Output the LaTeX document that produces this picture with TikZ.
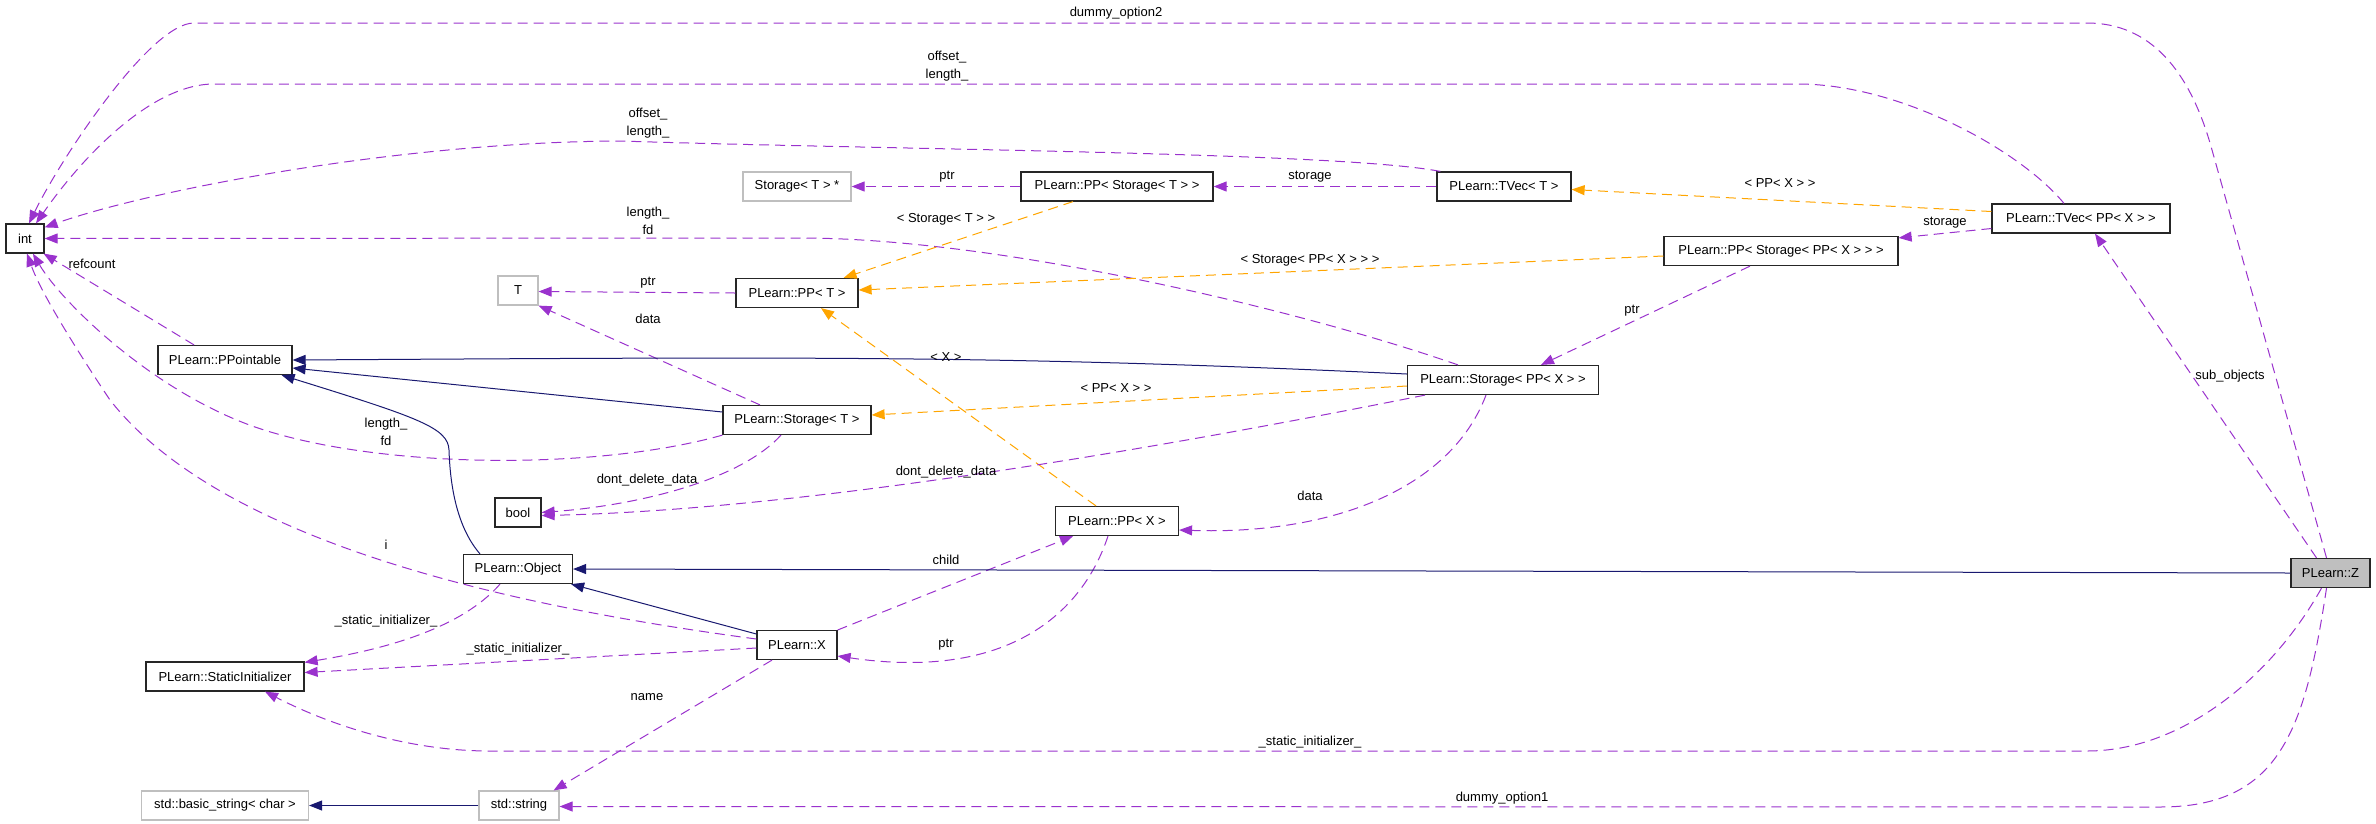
\documentclass[tikz,border=0pt]{standalone}
\usepackage{fontspec}
\usetikzlibrary{arrows.meta}
\newfontfamily\labfam{Liberation Sans}
\newcommand\labfont{\labfam\fontsize{13}{18}\selectfont}
\definecolor{purp}{HTML}{9A32CD}
\definecolor{orng}{HTML}{FFA500}
\definecolor{mnavy}{HTML}{191970}
\definecolor{greyS}{HTML}{BFBFBF}
\tikzset{
  box/.style={draw=black!85, line width=1.2pt, fill=white, minimum height=29pt, inner sep=0pt, font=\labfont},
  gbox/.style={box, draw=greyS},
  tip/.style={-{Triangle[length=13pt,width=10pt]}},
  pe/.style={draw=purp, line width=1pt, dash pattern=on 10pt off 6pt, tip},
  oe/.style={draw=orng, line width=1pt, dash pattern=on 10pt off 6pt, tip},
  ne/.style={draw=mnavy, line width=1pt, tip},
  lbl/.style={font=\labfont, inner sep=0pt, align=center}
}
\begin{document}
\begin{tikzpicture}[x=1pt,y=-1pt]
\useasboundingbox (0,0) rectangle (2376,823);
% nodes
\node[box, minimum width=38pt] (int) at (25,238.5) {int};
\node[box, minimum width=134pt] (ppt) at (225,360) {PLearn::PPointable};
\node[gbox, minimum width=40pt] (T) at (518,290.5) {T};
\node[gbox, minimum width=108pt] (sts) at (797,186.5) {Storage< T > *};
\node[box, minimum width=192pt] (ppst) at (1117,186.5) {PLearn::PP< Storage< T > >};
\node[box, minimum width=134pt] (tvt) at (1504,186.5) {PLearn::TVec< T >};
\node[box, minimum width=122pt] (ppT) at (797,293) {PLearn::PP< T >};
\node[box, minimum width=191pt] (spx) at (1503,380) {PLearn::Storage< PP< X > >};
\node[box, minimum width=148pt] (st) at (797,420) {PLearn::Storage< T >};
\node[box, minimum width=46pt] (bool) at (518,512.5) {bool};
\node[box, minimum width=123pt] (ppx) at (1117,521) {PLearn::PP< X >};
\node[box, minimum width=109pt] (obj) at (518,569) {PLearn::Object};
\node[box, minimum width=80pt] (X) at (797,645) {PLearn::X};
\node[box, minimum width=158pt] (si) at (225,676.5) {PLearn::StaticInitializer};
\node[gbox, minimum width=167pt] (bs) at (225,805.5) {std::basic\_string< char >};
\node[gbox, minimum width=80pt] (ss) at (519,805.5) {std::string};
\node[box, minimum width=178pt] (tvpx) at (2081,218.5) {PLearn::TVec< PP< X > >};
\node[box, minimum width=234pt] (ppspx) at (1781,251) {PLearn::PP< Storage< PP< X > > >};
\node[box, minimum width=79pt, fill=greyS] (Z) at (2330.5,573) {PLearn::Z};
% edges
\draw[pe] ([xshift=-4pt]Z.north) -- (2212,150) .. controls (2190,70) and (2150,23) .. (2087,23) -- (194,23) .. controls (150,23) and (60,160) .. ([xshift=4pt]int.north);
\draw[pe] ([xshift=-17pt]tvpx.north) .. controls (2020,150) and (1900,84) .. (1798,84) -- (214,84) .. controls (150,84) and (80,160) .. ([xshift=11pt]int.north);
\draw[pe] ([xshift=4pt]tvt.north west) .. controls (1340,152) and (900,150) .. (620,141) .. controls (400,142) and (150,190) .. ([yshift=-4pt]int.north east);
\draw[pe] ([xshift=-45pt]spx.north) .. controls (1300,310) and (1000,238) .. (800,238) -- (int.east);
\draw[pe] ([xshift=-31pt]ppt.north) -- ([xshift=-1pt]int.south east);
\draw[pe] (st.south west) .. controls (600,470) and (380,470) .. (255,427) .. controls (150,390) and (60,300) .. ([xshift=8pt]int.south);
\draw[pe] ([yshift=6pt]X.west) .. controls (500,605) and (220,540) .. (110,400) .. controls (70,340) and (40,290) .. ([xshift=2pt]int.south);
\draw[pe] (ppT.west) -- ([yshift=-1pt]T.east);
\draw[pe] ([xshift=-37pt]st.north) -- (T.south east);
\draw[ne] ([yshift=6pt]spx.west) .. controls (1000,355) and (800,357) .. (ppt.east);
\draw[ne] ([yshift=8pt]st.west) -- ([yshift=-8pt]ppt.east);
\draw[ne] ([xshift=-38pt]obj.north) .. controls (455,525) and (450,480) .. (449,450) .. controls (448,428) and (420,418) .. ([xshift=-11pt]ppt.south east);
\draw[oe] ([xshift=-44pt]ppst.south) -- ([xshift=-15pt]ppT.north east);
\draw[oe] ([yshift=-5pt]ppspx.west) -- ([yshift=3pt]ppT.east);
\draw[oe] ([xshift=-21pt]ppx.north) -- ([xshift=24pt]ppT.south);
\draw[pe] (ppst.west) -- (sts.east);
\draw[pe] (tvt.west) -- (ppst.east);
\draw[oe] ([yshift=7pt]tvpx.west) -- ([yshift=-3pt]tvt.east);
\draw[pe] ([yshift=-10pt]tvpx.west) -- ([yshift=-2pt]ppspx.north east);
\draw[pe] ([xshift=-31pt]ppspx.south) -- ([xshift=38pt]spx.north);
\draw[oe] ([yshift=-6pt]spx.west) -- ([yshift=5pt]st.east);
\draw[pe] ([xshift=-16pt]st.south) .. controls (740,480) and (640,505) .. (bool.east);
\draw[pe] ([xshift=-78pt]spx.south) .. controls (1150,450) and (800,510) .. ([yshift=-3pt]bool.east);
\draw[pe] ([xshift=-17pt]spx.south) .. controls (1450,490) and (1330,535) .. ([yshift=-9pt]ppx.east);
\draw[pe] ([yshift=15pt]X.east) -- ([xshift=-44pt]ppx.south);
\draw[pe] ([xshift=-9pt]ppx.south) .. controls (1080,620) and (1000,680) .. ([yshift=-11pt]X.east);
\draw[ne] ([yshift=11pt]X.west) -- ([xshift=-2pt]obj.south east);
\draw[ne] (Z.west) -- (obj.east);
\draw[pe] ([xshift=-18pt]obj.south) .. controls (460,630) and (380,650) .. ([yshift=-1pt]si.north east);
\draw[pe] ([yshift=-3pt]X.west) -- ([yshift=4pt]si.east);
\draw[pe] ([xshift=-9pt]Z.south) .. controls (2270,680) and (2180,751) .. (2087,751) -- (490,751) .. controls (400,751) and (320,720) .. ([xshift=40pt]si.south);
\draw[pe] ([xshift=-25pt]X.south) -- ([xshift=-6pt]ss.north east);
\draw[pe] ([xshift=-4pt]Z.south) .. controls (2305,730) and (2280,807) .. (2160,807) -- ([yshift=-1pt]ss.east);
\draw[ne] (ss.west) -- (bs.east);
\draw[pe] ([xshift=-14pt]Z.north) -- ([xshift=14pt]tvpx.south);
% labels
\node[lbl] (l1) at (1116,13) {dummy\_option2};
\node[lbl] (l2) at (947,66) {offset\_\\length\_};
\node[lbl] (l3) at (648,123) {offset\_\\length\_};
\node[lbl] (l4) at (648,220.5) {length\_\\fd};
\node[lbl] (l5) at (92,264) {refcount};
\node[lbl] (l6) at (648,283) {ptr};
\node[lbl] (l7) at (648,319) {data};
\node[lbl] (l8) at (947,177) {ptr};
\node[lbl] (l9) at (1310,177) {storage};
\node[lbl] (l10) at (946,219) {< Storage< T > >};
\node[lbl] (l11) at (1780,183) {< PP< X > >};
\node[lbl] (l12) at (1945,223) {storage};
\node[lbl] (l13) at (1310,260) {< Storage< PP< X > > >};
\node[lbl] (l14) at (1632,311) {ptr};
\node[lbl] (l15) at (946,357) {< X >};
\node[lbl] (l16) at (1116,388) {< PP< X > >};
\node[lbl] (l17) at (2230,376) {sub\_objects};
\node[lbl] (l18) at (386,431.5) {length\_\\fd};
\node[lbl] (l19) at (647,480) {dont\_delete\_data};
\node[lbl] (l20) at (946,472) {dont\_delete\_data};
\node[lbl] (l21) at (1310,496) {data};
\node[lbl] (l22) at (386,545) {i};
\node[lbl] (l23) at (946,560) {child};
\node[lbl] (l24) at (386,621) {\_static\_initializer\_};
\node[lbl] (l25) at (518,649) {\_static\_initializer\_};
\node[lbl] (l26) at (946,645) {ptr};
\node[lbl] (l27) at (647,697) {name};
\node[lbl] (l28) at (1310,742) {\_static\_initializer\_};
\node[lbl] (l29) at (1502,798) {dummy\_option1};
\end{tikzpicture}
\end{document}
